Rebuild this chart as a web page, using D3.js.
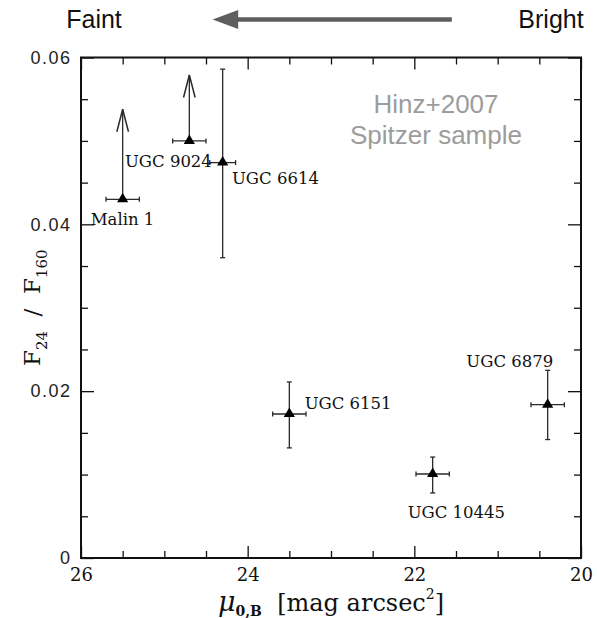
<!DOCTYPE html>
<html><head><meta charset="utf-8">
<script src="https://cdn.jsdelivr.net/npm/d3@7"></script>
<style>body{margin:0;background:#fff}</style>
</head><body>
<script>
// ---- data ----
const names   = ["Malin 1","UGC 9024","UGC 6614","UGC 6151","UGC 10445","UGC 6879"];
const mu      = [25.5, 24.7, 24.3, 23.5, 21.78, 20.40];
const muErr   = [0.2, 0.2, 0.155, 0.2, 0.2, 0.2];
const ratio   = [0.0430, 0.0500, 0.0474, 0.01726, 0.01007, 0.01838];
const ratioLo = [null, null, 0.0360, 0.0132, 0.0078, 0.0142];
const ratioHi = [null, null, 0.0586, 0.0211, 0.0121, 0.0225];
const lowerLimitTip = [0.0538, 0.0579, null, null, null, null];
const xMajor = [26, 24, 22, 20];
const yMajor = [0, 0.02, 0.04, 0.06];
const brightnessArrow = [21.55, 24.42]; // from (bright) -> to (faint), in mag arcsec^-2

// ---- layout ----
const W = 597, H = 618;
const L = 81, R = 581, T = 57.5, B = 558;
const labelOffset = [[-32,25.7],[-64.4,26.3],[9.3,21.3],[15.3,-5],[-25,43.7],[-81.3,-37.4]];

const svg = d3.select("body").append("svg").attr("width", W).attr("height", H);
const x = d3.scaleLinear().domain([26, 20]).range([L, R]);
const y = d3.scaleLinear().domain([0, 0.06]).range([B, T]);

const xMinor = d3.range(26, 19.99, -0.5).filter(v => !xMajor.includes(v));
const yMinor = d3.range(0, 0.0601, 0.005).map(v => +v.toFixed(3)).filter(v => !yMajor.some(m => Math.abs(m - v) < 1e-9));

const ink = "#111";
function styleAxis(g){ g.select(".domain").remove(); g.selectAll("line").attr("stroke", ink).attr("stroke-width", 1.3); }

// bottom
svg.append("g").attr("transform", `translate(0,${B})`)
  .call(d3.axisBottom(x).tickValues(xMajor).tickSize(-12).tickPadding(10).tickFormat(d3.format("d")))
  .call(styleAxis)
  .call(g => g.selectAll("text").attr("font-family", "DejaVu Serif").attr("font-size", 18).attr("fill", ink));
svg.append("g").attr("transform", `translate(0,${B})`)
  .call(d3.axisBottom(x).tickValues(xMinor).tickSize(-7).tickFormat(""))
  .call(styleAxis);
// top
svg.append("g").attr("transform", `translate(0,${T})`)
  .call(d3.axisTop(x).tickValues(xMajor).tickSize(-12).tickFormat(""))
  .call(styleAxis);
svg.append("g").attr("transform", `translate(0,${T})`)
  .call(d3.axisTop(x).tickValues(xMinor).tickSize(-7).tickFormat(""))
  .call(styleAxis);
// left
svg.append("g").attr("transform", `translate(${L},0)`)
  .call(d3.axisLeft(y).tickValues(yMajor).tickSize(-13).tickPadding(9.5).tickFormat(d => d === 0 ? "0" : d.toFixed(2)))
  .call(styleAxis)
  .call(g => g.selectAll("text").attr("font-family", "Liberation Sans, Arial, sans-serif").attr("font-size", 18).attr("letter-spacing", 1.5).attr("fill", "#222"));
svg.append("g").attr("transform", `translate(${L},0)`)
  .call(d3.axisLeft(y).tickValues(yMinor).tickSize(-7).tickFormat(""))
  .call(styleAxis);
// right
svg.append("g").attr("transform", `translate(${R},0)`)
  .call(d3.axisRight(y).tickValues(yMajor).tickSize(-13).tickFormat(""))
  .call(styleAxis);
svg.append("g").attr("transform", `translate(${R},0)`)
  .call(d3.axisRight(y).tickValues(yMinor).tickSize(-7).tickFormat(""))
  .call(styleAxis);

// frame
svg.append("rect").attr("x", L).attr("y", T).attr("width", R - L).attr("height", B - T)
  .attr("fill", "none").attr("stroke", ink).attr("stroke-width", 2);

// data
const pts = names.map((n, i) => ({n, i, mu: mu[i], me: muErr[i], r: ratio[i], lo: ratioLo[i], hi: ratioHi[i], tip: lowerLimitTip[i]}));
const eb = svg.append("g").attr("stroke", "#2a2a2a").attr("stroke-width", 1.3).attr("fill", "none");
const cap = 2.5;
pts.forEach(p => {
  const px = x(p.mu), py = y(p.r);
  eb.append("line").attr("x1", x(p.mu + p.me)).attr("x2", x(p.mu - p.me)).attr("y1", py).attr("y2", py);
  eb.append("line").attr("x1", x(p.mu + p.me)).attr("x2", x(p.mu + p.me)).attr("y1", py - cap).attr("y2", py + cap);
  eb.append("line").attr("x1", x(p.mu - p.me)).attr("x2", x(p.mu - p.me)).attr("y1", py - cap).attr("y2", py + cap);
  if (p.lo !== null) {
    eb.append("line").attr("x1", px).attr("x2", px).attr("y1", y(p.lo)).attr("y2", y(p.hi));
    eb.append("line").attr("x1", px - cap).attr("x2", px + cap).attr("y1", y(p.lo)).attr("y2", y(p.lo));
    eb.append("line").attr("x1", px - cap).attr("x2", px + cap).attr("y1", y(p.hi)).attr("y2", y(p.hi));
  }
  if (p.tip !== null) {
    const ty = y(p.tip);
    eb.append("line").attr("x1", px).attr("x2", px).attr("y1", py).attr("y2", ty);
    eb.append("path").attr("d", `M${px - 5.8},${ty + 22.5}L${px},${ty}L${px + 5.8},${ty + 22.5}`).attr("stroke-width", 1.5);
  }
});
svg.append("g").selectAll("path").data(pts).join("path")
  .attr("transform", p => `translate(${x(p.mu)},${y(p.r)})`)
  .attr("d", "M0,-6.5L5.6,3L-5.6,3Z").attr("fill", "#000");

// point labels
svg.append("g").selectAll("text").data(pts).join("text")
  .attr("x", p => x(p.mu) + labelOffset[p.i][0])
  .attr("y", p => y(p.r) + labelOffset[p.i][1])
  .attr("font-family", "DejaVu Serif").attr("font-size", 16.5).attr("fill", "#111")
  .text(p => p.n);

// annotation text
svg.append("text").attr("x", 436).attr("y", 113).attr("text-anchor", "middle")
  .attr("font-family", "Liberation Sans, Arial, sans-serif").attr("font-size", 26).attr("fill", "#9c9c9c").text("Hinz+2007");
svg.append("text").attr("x", 436).attr("y", 144).attr("text-anchor", "middle")
  .attr("font-family", "Liberation Sans, Arial, sans-serif").attr("font-size", 26).attr("fill", "#9c9c9c").text("Spitzer sample");

// Faint / Bright with arrow
svg.append("text").attr("x", 94).attr("y", 27.5).attr("text-anchor", "middle")
  .attr("font-family", "Liberation Sans, Arial, sans-serif").attr("font-size", 25).attr("fill", "#111").text("Faint");
svg.append("text").attr("x", 551).attr("y", 27.5).attr("text-anchor", "middle")
  .attr("font-family", "Liberation Sans, Arial, sans-serif").attr("font-size", 25).attr("fill", "#111").text("Bright");
const ay = 19.5, ax0 = x(brightnessArrow[0]), ax1 = x(brightnessArrow[1]);
svg.append("line").attr("x1", ax0).attr("x2", ax1 + 24).attr("y1", ay).attr("y2", ay)
  .attr("stroke", "#5e5e5e").attr("stroke-width", 4.5);
svg.append("path").attr("d", `M${ax1},${ay}L${ax1 + 25.5},${ay - 9.5}L${ax1 + 25.5},${ay + 9.5}Z`).attr("fill", "#5e5e5e");

// x-axis title
const xt = svg.append("text").attr("x", (L + R) / 2).attr("y", 611).attr("text-anchor", "middle")
  .attr("font-family", "DejaVu Serif").attr("font-size", 24).attr("fill", "#111");
xt.append("tspan").attr("font-style", "italic").attr("font-size", 27).text("μ");
xt.append("tspan").attr("font-size", 14).attr("font-weight", "bold").attr("dy", 5).text("0,B");
xt.append("tspan").attr("dy", -5).text("\u00a0\u00a0[mag\u00a0arcsec");
xt.append("tspan").attr("font-size", 14).attr("dy", -12).text("2");
xt.append("tspan").attr("dy", 12).text("]");

// y-axis title
const yt = svg.append("text").attr("transform", `translate(40,${(T + B) / 2}) rotate(-90)`)
  .attr("text-anchor", "middle").attr("font-family", "DejaVu Serif").attr("font-size", 23).attr("fill", "#111");
yt.append("tspan").text("F");
yt.append("tspan").attr("font-size", 15).attr("dy", 7).text("24");
yt.append("tspan").attr("dy", -7).text("\u00a0\u00a0/\u00a0\u00a0");
yt.append("tspan").text("F");
yt.append("tspan").attr("font-size", 15).attr("dy", 7).text("160");
</script>
</body></html>
